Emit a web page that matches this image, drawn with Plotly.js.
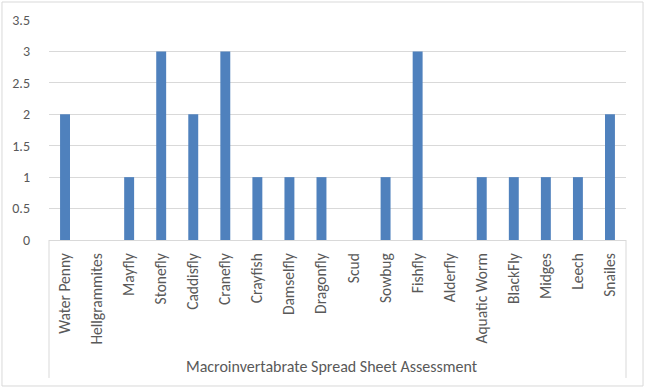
<!DOCTYPE html>
<html>
<head>
<meta charset="utf-8">
<script src="https://cdn.plot.ly/plotly-3.0.1.min.js"></script>
<style>html,body{margin:0;padding:0;background:#fff;}#chart{width:646px;height:389px;}</style>
</head>
<body>
<div id="chart"></div>
<script>
const categories = ["Water Penny","Hellgrammites","Mayfly","Stonefly","Caddisfly","Cranefly","Crayfish","Damselfly","Dragonfly","Scud","Sowbug","Fishfly","Alderfly","Aquatic Worm","BlackFly","Midges","Leech","Snailes"];
const counts = [2,0,1,3,2,3,1,1,1,0,1,3,0,1,1,1,1,2];
const yTicks = [0,0.5,1,1.5,2,2.5,3,3.5];
const yTickText = ["0","0.5","1","1.5","2","2.5","3","3.5"];
const axisGroupTitle = "Macroinvertabrate Spread Sheet Assessment";

const fontFam = "Carlito, Lato, 'Open Sans', sans-serif";
const gray = "#595959";
const lineGray = "#D9D9D9";

Plotly.newPlot("chart", [{
  type: "bar",
  x: categories,
  y: counts,
  marker: {color: "#4F81BD"},
  hoverinfo: "x+y"
}], {
  width: 646, height: 389,
  margin: {l: 49, r: 20, t: 20, b: 149, pad: 0},
  paper_bgcolor: "#fff", plot_bgcolor: "#fff",
  bargap: 0.69,
  showlegend: false,
  font: {family: fontFam, color: gray, size: 13},
  xaxis: {
    type: "category",
    tickangle: -90,
    tickfont: {family: fontFam, size: 15.5, color: gray},
    showgrid: false, showline: true, linecolor: lineGray, linewidth: 1,
    ticks: "", ticklabelstandoff: 6, zeroline: false, fixedrange: true
  },
  yaxis: {
    range: [0, 3.5],
    tickvals: yTicks, ticktext: yTickText,
    tickfont: {family: fontFam, size: 14, color: gray},
    showgrid: true, gridcolor: lineGray, gridwidth: 1,
    zeroline: false, showline: false, ticks: "", ticklabelstandoff: 18, fixedrange: true
  },
  annotations: [{
    text: axisGroupTitle, xref: "paper", yref: "paper",
    x: 0.491, y: -0.573, xanchor: "center", yanchor: "middle",
    showarrow: false, font: {family: fontFam, size: 16, color: gray}
  }],
  shapes: [
    {type: "line", xref: "paper", yref: "paper", x0: 0, x1: 0, y0: 0, y1: -0.627, line: {color: lineGray, width: 1}},
    {type: "line", xref: "paper", yref: "paper", x0: 1, x1: 1, y0: 0, y1: -0.627, line: {color: lineGray, width: 1}},
    {type: "rect", xref: "paper", yref: "paper", x0: -0.0815, x1: 1.0295, y0: -0.6636, y1: 1.0818, line: {color: lineGray, width: 1}}
  ]
}, {displayModeBar: false, staticPlot: true});
</script>
</body>
</html>
